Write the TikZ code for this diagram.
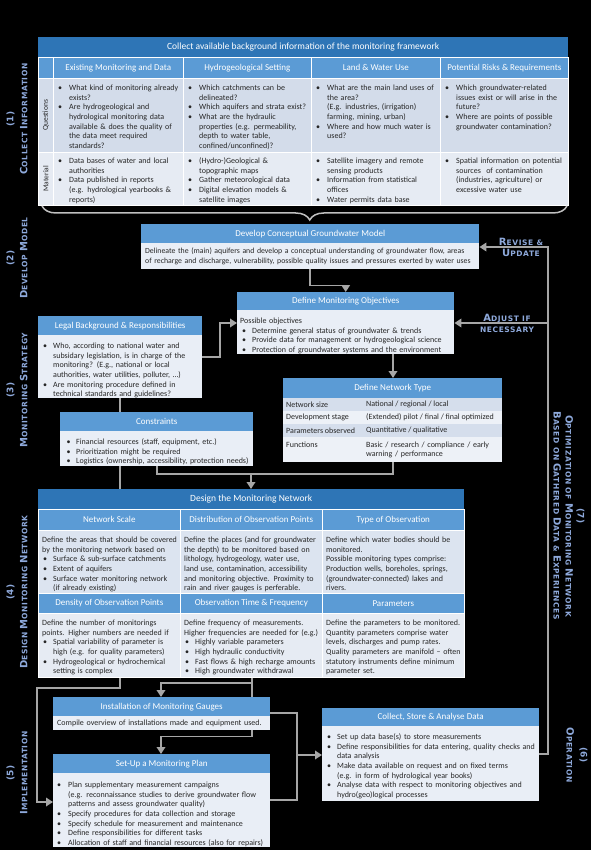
\documentclass[tikz,border=0pt]{standalone}
\usepackage{fontspec}
\setmainfont{Carlito}
\newfontfamily\labfont{DejaVu Sans}[LetterSpace=8]
\usetikzlibrary{arrows.meta,decorations.pathreplacing}
\definecolor{tblue}{HTML}{2E75B6}
\definecolor{hblue}{HTML}{5B9BD5}
\definecolor{bodyA}{HTML}{D3DCEA}
\definecolor{bodyB}{HTML}{E6EBF3}
\definecolor{bodyC}{HTML}{E9EEF6}
\definecolor{bodyD}{HTML}{DCE4F0}
\definecolor{rowS}{HTML}{D5DEEC}
\definecolor{rowL}{HTML}{EDF1F7}
\definecolor{conncol}{HTML}{A6A6A6}
\definecolor{labcol}{HTML}{8EA9DB}
\definecolor{txtcol}{HTML}{262626}
\definecolor{bracecol}{HTML}{BFBFBF}
\newlength\bw \newlength\bo
\setlength\bw{12pt}\setlength\bo{2pt}
\newcommand\tf{\fontsize{8}{9.7}\selectfont}
\newcommand\bwset[2]{\setlength\bw{#1pt}\setlength\bo{#2pt}}
\newcommand\bu[1]{\par\noindent\hangindent=\bw\hangafter=1\makebox[\bw][l]{\hspace{\bo}\textbullet}{\let\\\newline #1}\par}
\newcommand\pl[1]{\par\noindent #1\par}
\newcommand\Bg[1]{{\fontsize{10}{10}\selectfont #1}}
\newcommand\Pn[1]{{\fontsize{9}{9}\selectfont #1}}
\tikzset{
  hdr/.style={fill=hblue, text=white, font=\fontsize{9}{10}\selectfont, inner sep=0pt, anchor=north west, align=center},
  ttl/.style={hdr, fill=tblue, font=\fontsize{9.5}{11}\selectfont},
  bod/.style={fill=bodyC, inner sep=0pt, anchor=north west},
  cell/.style={draw=white, line width=0.6pt},
  txt/.style={font=\tf, text=txtcol, align=left, inner sep=0pt, anchor=north west},
  ntt/.style={font=\tf, text=txtcol, inner sep=0pt, anchor=west},
  conn/.style={draw=conncol, line width=1.8pt},
  arr/.style={conn, -{Triangle[length=7pt,width=8.5pt]}},
  lab/.style={font=\labfont\bfseries\fontsize{7.5}{14}\selectfont, text=labcol, align=center, inner sep=0pt},
  labs/.style={font=\labfont\bfseries\fontsize{7.5}{11}\selectfont, text=labcol, align=center, inner sep=0pt},
  rowlab/.style={font=\fontsize{7.5}{8}\selectfont, text=txtcol, inner sep=0pt, rotate=90}
}
\begin{document}
\begin{tikzpicture}[x=1pt,y=-1pt]
\useasboundingbox (0,0) rectangle (591,850);
\fill[black] (0,0) rectangle (591,850);

% ---------- (1) Collect information table ----------
\node[ttl, minimum width=530pt, minimum height=20pt] (cT) at (38,37) {Collect available background information of the monitoring framework};
\node[hdr, cell, minimum width=15pt, minimum height=21pt] (cH0) at (38,57) {};
\node[hdr, cell, minimum width=130pt, minimum height=21pt] (cH1) at (53,57) {Existing Monitoring and Data};
\node[hdr, cell, minimum width=128pt, minimum height=21pt] (cH2) at (183,57) {Hydrogeological Setting};
\node[hdr, cell, minimum width=129pt, minimum height=21pt] (cH3) at (311,57) {Land \& Water Use};
\node[hdr, cell, minimum width=128pt, minimum height=21pt] (cH4) at (440,57) {Potential Risks \& Requirements};
\node[bod, cell, fill=bodyA, minimum width=15pt, minimum height=74pt] (cQ0) at (38,78) {};
\node[bod, cell, fill=bodyA, minimum width=130pt, minimum height=74pt] (cQ1) at (53,78) {};
\node[bod, cell, fill=bodyA, minimum width=128pt, minimum height=74pt] (cQ2) at (183,78) {};
\node[bod, cell, fill=bodyA, minimum width=129pt, minimum height=74pt] (cQ3) at (311,78) {};
\node[bod, cell, fill=bodyA, minimum width=128pt, minimum height=74pt] (cQ4) at (440,78) {};
\node[bod, cell, fill=bodyB, minimum width=15pt, minimum height=53pt] (cM0) at (38,152) {};
\node[bod, cell, fill=bodyB, minimum width=130pt, minimum height=53pt] (cM1) at (53,152) {};
\node[bod, cell, fill=bodyB, minimum width=128pt, minimum height=53pt] (cM2) at (183,152) {};
\node[bod, cell, fill=bodyB, minimum width=129pt, minimum height=53pt] (cM3) at (311,152) {};
\node[bod, cell, fill=bodyB, minimum width=128pt, minimum height=53pt] (cM4) at (440,152) {};
\node[rowlab] (qlab) at (cQ0.center) {Questions};
\node[rowlab] (mlab) at (cM0.center) {Material};

\node[txt, text width=132pt] (tq1) at (56,80.5) {\bwset{13}{2}\bu{What kind of monitoring already\\exists?}\bu{Are hydrogeological and\\hydrological monitoring data\\available \& does the quality of\\the data meet required\\standards?}};
\node[txt, text width=130pt] (tq2) at (186,80.5) {\bwset{13}{2}\bu{Which catchments can be\\delineated?}\bu{Which aquifers and strata exist?}\bu{What are the hydraulic\\properties (e.g. permeability,\\depth to water table,\\confined/unconfined)?}};
\node[txt, text width=130pt] (tq3) at (314,80.5) {\bwset{13}{2}\bu{What are the main land uses of\\the area?\\(E.g. industries, (irrigation)\\farming, mining, urban)}\bu{Where and how much water is\\used?}};
\node[txt, text width=130pt] (tq4) at (443,80.5) {\bwset{13}{2}\bu{Which groundwater-related\\issues exist or will arise in the\\future?}\bu{Where are points of possible\\groundwater contamination?}};
\node[txt, text width=132pt] (tm1) at (56,153.5) {\bwset{13}{2}\bu{Data bases of water and local\\authorities}\bu{Data published in reports\\(e.g. hydrological yearbooks \&\\reports)}};
\node[txt, text width=130pt] (tm2) at (186,153.5) {\bwset{13}{2}\bu{(Hydro-)Geological \&\\topographic maps}\bu{Gather meteorological data}\bu{Digital elevation models \&\\satellite images}};
\node[txt, text width=130pt] (tm3) at (314,153.5) {\bwset{13}{2}\bu{Satellite imagery and remote\\sensing products}\bu{Information from statistical\\offices}\bu{Water permits data base}};
\node[txt, text width=130pt] (tm4) at (443,153.5) {\bwset{13}{2}\bu{Spatial information on potential\\sources \ of contamination\\(industries, agriculture) or\\excessive water use}};

\draw[draw=bracecol, line width=1.5pt, decorate, decoration={brace, amplitude=14pt, aspect=0.49}] (567,206) -- (42,206);

% ---------- (2) Develop model ----------
\node[hdr, minimum width=338pt, minimum height=19pt] (devH) at (141,224) {Develop Conceptual Groundwater Model};
\node[bod, minimum width=338pt, minimum height=26pt] (devB) at (141,243) {};
\node[txt, font=\fontsize{7.8}{9.7}\selectfont, text width=345pt] (devT) at (145,247.5) {Delineate the (main) aquifers and develop a conceptual understanding of groundwater flow, areas\\of recharge and discharge, vulnerability, possible quality issues and pressures exerted by water uses};

% ---------- Objectives ----------
\node[hdr, minimum width=217pt, minimum height=18pt] (objH) at (237,292) {Define Monitoring Objectives};
\node[bod, minimum width=217pt, minimum height=44pt] (objB) at (237,310) {};
\node[txt, text width=220pt] (objT) at (240,313.5) {\bwset{12}{2}\pl{Possible objectives}\bu{Determine general status of groundwater \& trends}\bu{Provide data for management or hydrogeological science}\bu{Protection of groundwater systems and the environment}};

% ---------- Legal ----------
\node[hdr, minimum width=164pt, minimum height=19pt] (legH) at (38,316) {Legal Background \& Responsibilities};
\node[bod, minimum width=164pt, minimum height=63pt] (legB) at (38,335) {};
\node[txt, text width=172pt] (legT) at (41,338.5) {\bwset{12}{2}\bu{Who, according to national water and\\subsidary legislation, is in charge of the\\monitoring? (E.g., national or local\\authorities, water utilities, polluter, \dots)}\bu{Are monitoring procedure defined in\\technical standards and guidelines?}};

% ---------- Constraints ----------
\node[hdr, minimum width=193pt, minimum height=19pt] (conH) at (60,412) {Constraints};
\node[bod, minimum width=193pt, minimum height=35pt] (conB) at (60,431) {};
\node[txt, text width=200pt] (conT) at (64,434.5) {\bwset{12}{2.5}\bu{Financial resources (staff, equipment, etc.)}\bu{Prioritization might be required}\bu{Logistics (ownership, accessibility, protection needs)}};

% ---------- Network type ----------
\node[hdr, minimum width=219pt, minimum height=20pt] (ntH) at (283,378) {Define Network Type};
\node[bod, fill=rowS, minimum width=219pt, minimum height=13pt] (nt1) at (283,398) {};
\node[bod, fill=rowL, minimum width=219pt, minimum height=13pt] (nt2) at (283,411) {};
\node[bod, fill=rowS, minimum width=219pt, minimum height=13pt] (nt3) at (283,424) {};
\node[bod, fill=rowL, minimum width=219pt, minimum height=25pt] (nt4) at (283,437) {};
\node[ntt] (n1a) at (286,404.5) {Network size};
\node[ntt] (n1b) at (366,404.5) {National / regional / local};
\node[ntt] (n2a) at (286,417.5) {Development stage};
\node[ntt] (n2b) at (366,417.5) {(Extended) pilot / final / final optimized};
\node[ntt] (n3a) at (286,430.5) {Parameters observed};
\node[ntt] (n3b) at (366,430.5) {Quantitative / qualitative};
\node[txt] (n4a) at (286,441.5) {Functions};
\node[txt, text width=140pt] (n4b) at (366,441.5) {Basic / research / compliance / early\\warning / performance};

% ---------- (4) Design ----------
\node[ttl, minimum width=426pt, minimum height=20pt] (desT) at (38,489) {Design the Monitoring Network};
\node[hdr, cell, minimum width=142pt, minimum height=21pt] (dH1) at (38,509) {Network Scale};
\node[hdr, cell, minimum width=142pt, minimum height=21pt] (dH2) at (180,509) {Distribution of Observation Points};
\node[hdr, cell, minimum width=142pt, minimum height=21pt] (dH3) at (322,509) {Type of Observation};
\node[bod, cell, fill=bodyD, minimum width=142pt, minimum height=63pt] (dB1) at (38,530) {};
\node[bod, cell, fill=bodyD, minimum width=142pt, minimum height=63pt] (dB2) at (180,530) {};
\node[bod, cell, fill=bodyD, minimum width=142pt, minimum height=63pt] (dB3) at (322,530) {};
\node[hdr, cell, minimum width=142pt, minimum height=20pt] (dH4) at (38,593) {Density of Observation Points};
\node[hdr, cell, minimum width=142pt, minimum height=20pt] (dH5) at (180,593) {Observation Time \& Frequency};
\node[hdr, cell, minimum width=142pt, minimum height=20pt] (dH6) at (322,593) {Parameters};
\node[bod, cell, fill=bodyB, minimum width=142pt, minimum height=64pt] (dB4) at (38,613) {};
\node[bod, cell, fill=bodyB, minimum width=142pt, minimum height=64pt] (dB5) at (180,613) {};
\node[bod, cell, fill=bodyB, minimum width=142pt, minimum height=64pt] (dB6) at (322,613) {};
\node[txt, text width=146pt] (d1t) at (42,532.5) {\bwset{11}{1}\pl{Define the areas that should be covered\\by the monitoring network based on}\bu{Surface \& sub-surface catchments}\bu{Extent of aquifers}\bu{Surface water monitoring network\\(if already existing)}};
\node[txt, text width=146pt] (d2t) at (184,532.5) {\pl{Define the places (and for groundwater\\the depth) to be monitored based on\\lithology, hydrogeology, water use,\\land use, contamination, accessibility\\and monitoring objective. Proximity to\\rain and river gauges is perferable.}};
\node[txt, text width=146pt] (d3t) at (326,532.5) {\pl{Define which water bodies should be\\monitored.\\Possible monitoring types comprise:\\Production wells, boreholes, springs,\\(groundwater-connected) lakes and\\rivers.}};
\node[txt, text width=146pt] (d4t) at (42,615.5) {\bwset{11}{1}\pl{Define the number of monitorings\\points. Higher numbers are needed if}\bu{Spatial variability of parameter is\\high (e.g. for quality parameters)}\bu{Hydrogeological or hydrochemical\\setting is complex}};
\node[txt, text width=146pt] (d5t) at (184,615.5) {\bwset{11}{1}\pl{Define frequency of measurements.\\Higher frequencies are needed for (e.g.)}\bu{Highly variable parameters}\bu{High hydraulic conductivity}\bu{Fast flows \& high recharge amounts}\bu{High groundwater withdrawal}};
\node[txt, text width=146pt] (d6t) at (326,615.5) {\pl{Define the parameters to be monitored.\\Quantity parameters comprise water\\levels, discharges and pump rates.\\Quality parameters are manifold -- often\\statutory instruments define minimum\\parameter set.}};

% ---------- (5) Implementation ----------
\node[hdr, minimum width=217pt, minimum height=19pt] (insH) at (53,697) {Installation of Monitoring Gauges};
\node[bod, minimum width=217pt, minimum height=14pt] (insB) at (53,716) {};
\node[txt, text width=220pt] (insT) at (57,719.5) {Compile overview of installations made and equipment used.};
\node[hdr, minimum width=217pt, minimum height=19pt] (setH) at (53,754) {Set-Up a Monitoring Plan};
\node[bod, minimum width=217pt, minimum height=74pt] (setB) at (53,773) {};
\node[txt, text width=222pt] (setT) at (55,777.5) {\bwset{13}{2}\bu{Plan supplementary measurement campaigns\\(e.g. reconnaissance studies to derive groundwater flow\\patterns and assess groundwater quality)}\bu{Specify procedures for data collection and storage}\bu{Specify schedule for measurement and maintenance}\bu{Define responsibilities for different tasks}\bu{Allocation of staff and financial resources (also for repairs)}};

% ---------- (6) Operation ----------
\node[hdr, minimum width=217pt, minimum height=18pt] (colH) at (322,708) {Collect, Store \& Analyse Data};
\node[bod, minimum width=217pt, minimum height=75pt] (colB) at (322,726) {};
\node[txt, text width=222pt] (colT) at (325,729.5) {\bwset{12}{2}\bu{Set up data base(s) to store measurements}\bu{Define responsibilities for data entering, quality checks and\\data analysis}\bu{Make data available on request and on fixed terms\\(e.g. in form of hydrological year books)}\bu{Analyse data with respect to monitoring objectives and\\hydro(geo)logical processes}};

% ---------- side labels ----------
\node[lab, rotate=90] (l1) at (17,119) {\Pn{(1)}\\\Bg{C}OLLECT \Bg{I}NFORMATION};
\node[lab, rotate=90] (l2) at (17,258) {\Pn{(2)}\\\Bg{D}EVELOP \Bg{M}ODEL};
\node[lab, rotate=90] (l3) at (17,390) {\Pn{(3)}\\\Bg{M}ONITORING \Bg{S}TRATEGY};
\node[lab, rotate=90] (l4) at (17,592) {\Pn{(4)}\\\Bg{D}ESIGN \Bg{M}ONITORING \Bg{N}ETWORK};
\node[lab, rotate=90] (l5) at (17,773) {\Pn{(5)}\\\Bg{I}MPLEMENTATION};
\node[lab, rotate=-90] (l6) at (577,755) {\Pn{(6)}\\\Bg{O}PERATION};
\node[labs, font=\labfont\bfseries\fontsize{7.5}{12}\selectfont, rotate=-90] (l7) at (569,516) {\Pn{(7)}\\\Bg{O}PTIMIZATION OF \Bg{M}ONITORING \Bg{N}ETWORK\\\Bg{B}ASED ON \Bg{G}ATHERED \Bg{D}ATA \& \Bg{E}XPERIENCES};
\node[labs] (lrev) at (521,247) {\Bg{R}EVISE \&\\\Bg{U}PDATE};
\node[labs] (ladj) at (507,323) {\Bg{A}DJUST IF\\NECESSARY};

% ---------- connectors ----------
\coordinate (legbend) at (220,323);
\coordinate (rtop) at (548,247);
\coordinate (radj) at (548,323);
\coordinate (ntx) at (393,0);
\coordinate (jn) at (251,474);
\coordinate (cx) at (157,474);
\coordinate (lx) at (120,0);
\coordinate (ix) at (252,0);
\coordinate (ax) at (161,0);
\coordinate (lb) at (37,688);
\coordinate (sy) at (0,802);
\coordinate (rx) at (297,713);
\coordinate (ry) at (297,800);
\coordinate (cy) at (297,755);

\draw[arr] (devB.south) -- ++(0,16) -| (objH.north);
\draw[arr] ([yshift=9.5pt]legB.east) -| (legbend) -- (legbend -| objB.west);
\draw[arr] ([yshift=9.5pt]colB.east) -| (rtop) -- (rtop -| devB.east);
\draw[arr] (radj) -- (radj -| objB.east);
\draw[arr] (objB.south -| ntx) -- (ntH.north -| ntx);
\draw[conn] (nt4.south -| ntx) |- (cx) -- (cx |- conB.south);
\draw[arr] (jn) -- (jn |- desT.north);
\draw[conn] (legB.south -| lx) -- (conH.north -| lx);
\draw[conn] (conB.south -| lx) -- (desT.north -| lx);
\draw[conn] (dB5.south -| ix) -- (insH.north -| ix);
\draw[arr] (dB5.south -| ix) -- ++(0,5) -| (insH.north -| ax);
\draw[arr] (dB4.south -| lx) |- (lb) |- (sy -| setB.west);
\draw[arr] (insB.south -| ix) -- ++(0,6) -| (setH.north -| ax);
\draw[conn] (rx -| insH.east) -- (rx) -- (ry) -- (ry -| setB.east);
\draw[arr] (cy) -- (cy -| colB.west);
\end{tikzpicture}
\end{document}
